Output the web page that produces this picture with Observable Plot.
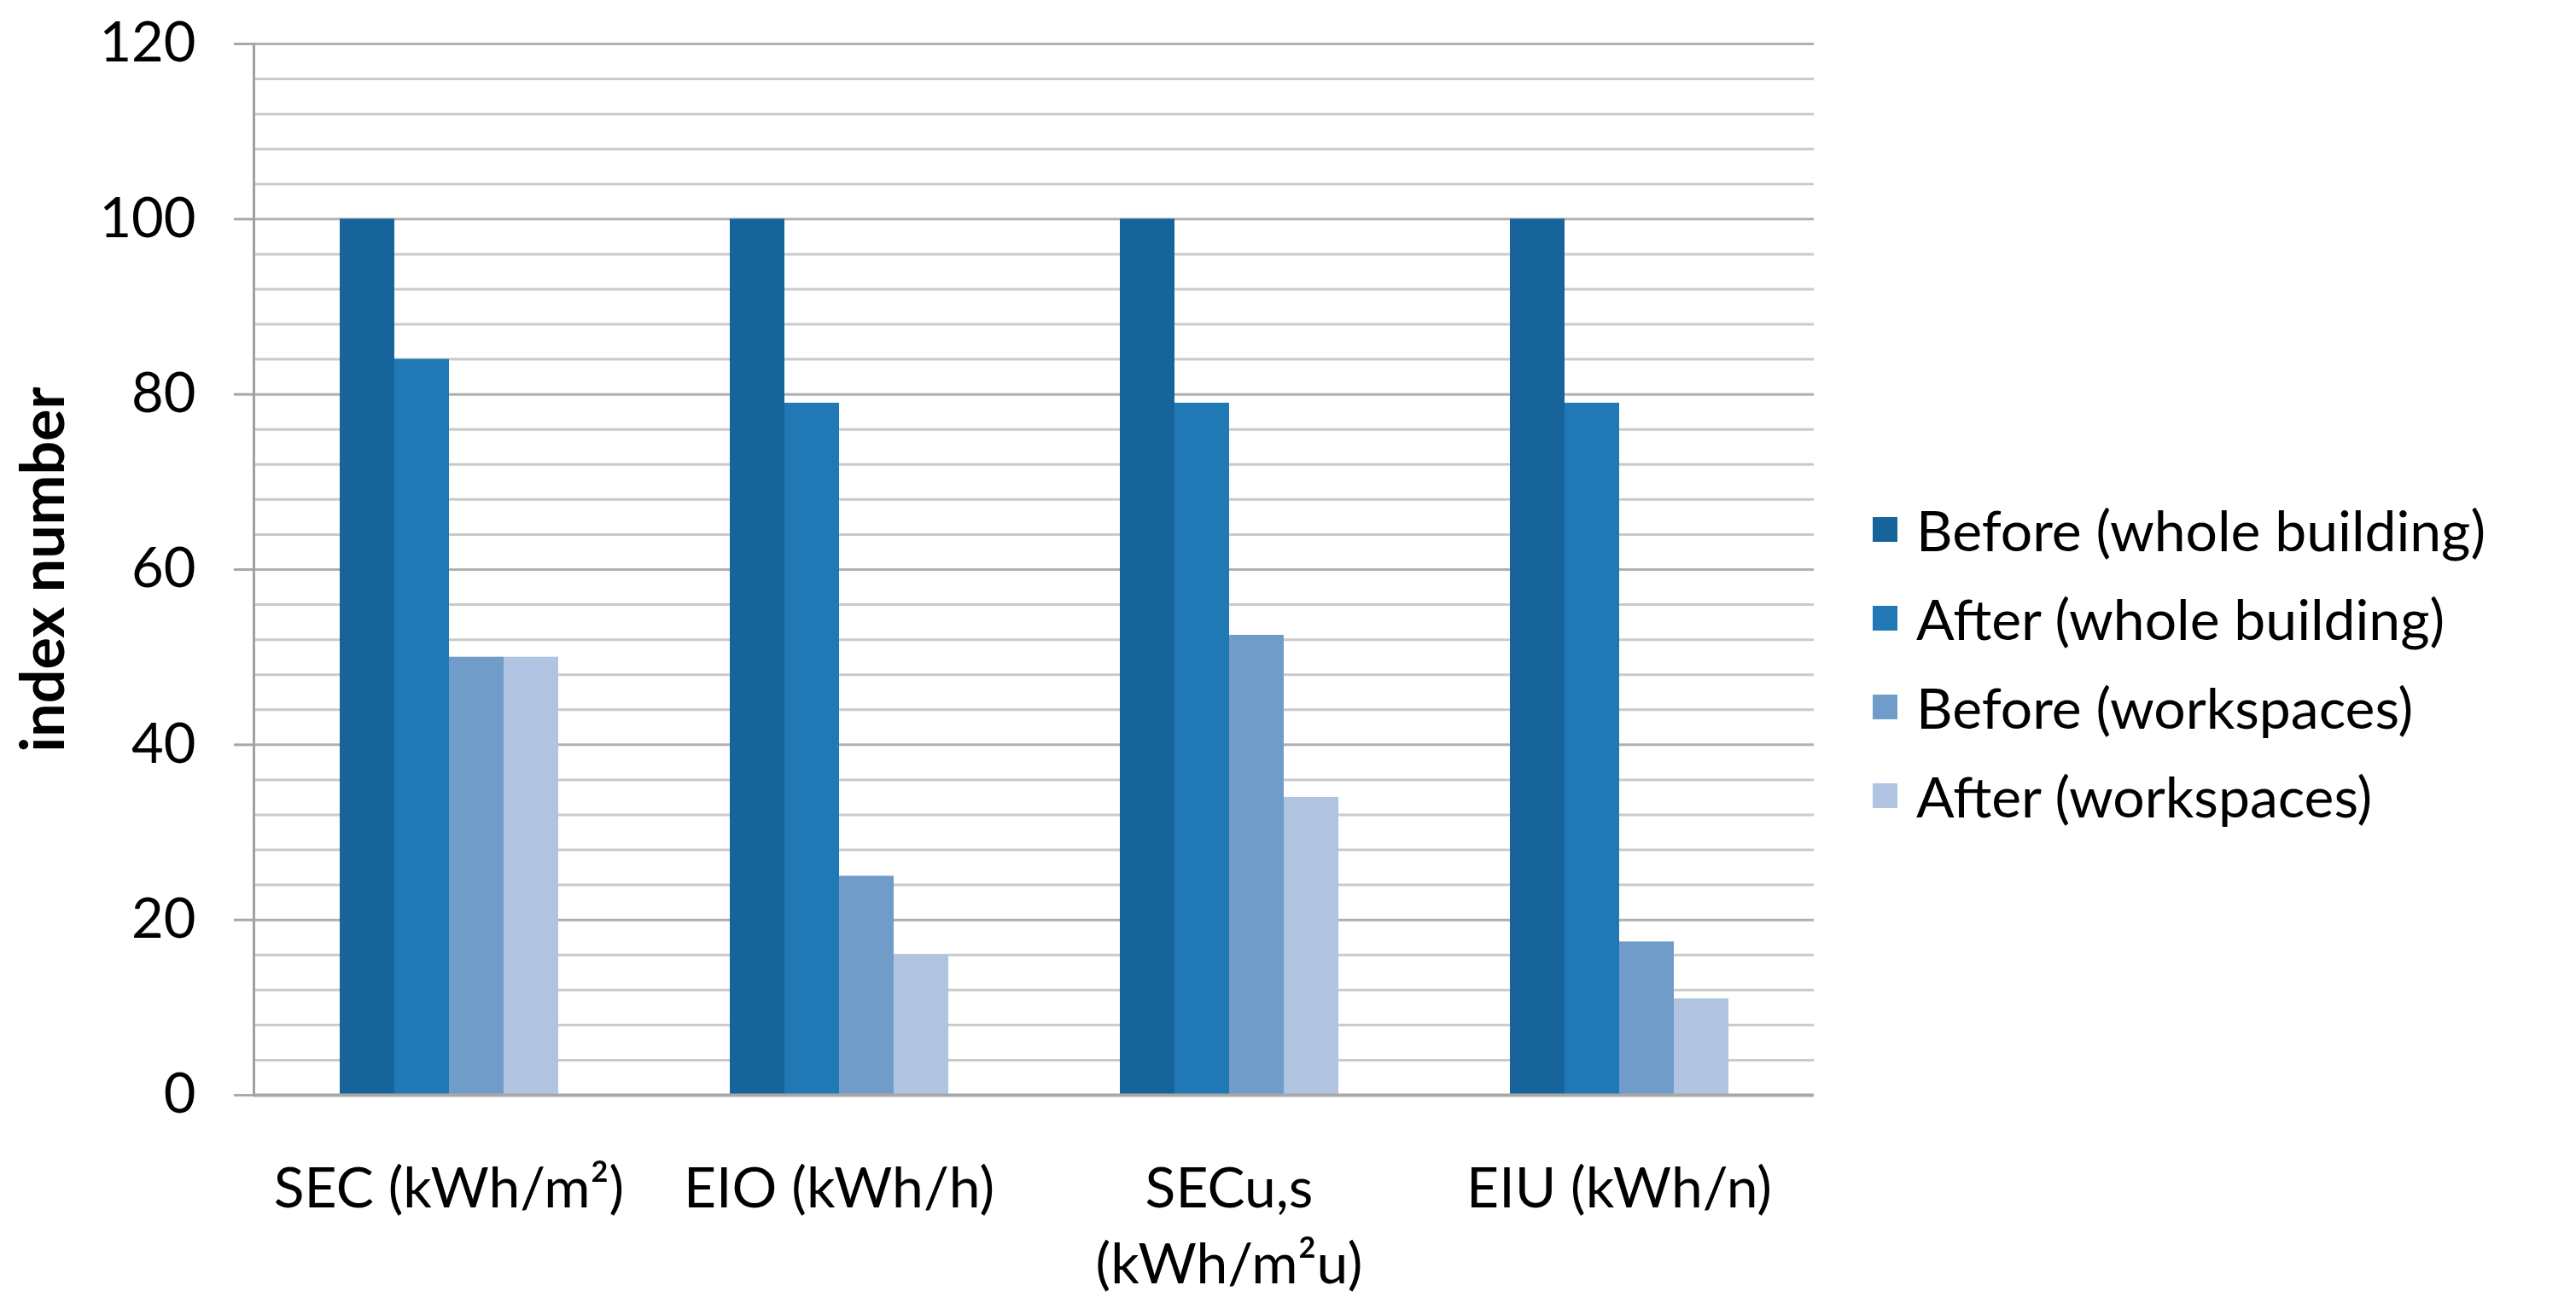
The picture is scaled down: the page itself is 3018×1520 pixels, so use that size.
<!DOCTYPE html>
<html><head><meta charset="utf-8">
<script src="https://cdn.jsdelivr.net/npm/d3@7"></script>
<script src="https://cdn.jsdelivr.net/npm/@observablehq/plot@0.6"></script>
<style>
html,body{margin:0;padding:0;background:#fff;}
#wrap{position:relative;width:3018px;height:1520px;font-family:Lato, sans-serif;}
#legend{position:absolute;left:2194px;top:568px;}
.item{display:flex;align-items:center;height:104px;font-size:66px;color:#000;}
.sw{width:29px;height:29px;margin-right:22px;flex:none;}
svg [aria-label="y-axis label"]{font-weight:bold;font-size:70px;}
</style></head><body><div id="wrap"></div>
<script>
const categories = ["SEC (kWh/m²)", "EIO (kWh/h)", "SECu,s\n(kWh/m²u)", "EIU (kWh/n)"];
const seriesNames = ["Before (whole building)", "After (whole building)", "Before (workspaces)", "After (workspaces)"];
const beforeWhole = [100, 100, 100, 100];
const afterWhole = [84, 79, 79, 79];
const beforeWork = [50, 25, 52.5, 17.5];
const afterWork = [50, 16, 34, 11];
const seriesColors = ["#17649a", "#2079b5", "#709cca", "#b0c4e1"];
const yTicks = [0, 20, 40, 60, 80, 100, 120];
const minorGrid = [4, 8, 12, 16, 24, 28, 32, 36, 44, 48, 52, 56, 64, 68, 72, 76, 84, 88, 92, 96, 104, 108, 112, 116];

const seriesValues = [beforeWhole, afterWhole, beforeWork, afterWork];
const data = [];
categories.forEach((c, i) => seriesNames.forEach((s, j) => data.push({category: c, series: s, value: seriesValues[j][i]})));

const chart = Plot.plot({
  width: 3018, height: 1520,
  marginLeft: 296, marginRight: 892, marginTop: 51, marginBottom: 237,
  style: {fontFamily: "Lato, sans-serif", fontSize: "65px", color: "#000", background: "#fff"},
  fx: {domain: categories, padding: 0, label: null},
  x: {domain: seriesNames, paddingInner: 0, paddingOuter: 1.53, axis: null},
  y: {domain: [0, 120]},
  color: {domain: seriesNames, range: seriesColors},
  marks: [
    Plot.ruleY(minorGrid, {stroke: "#cacaca", strokeWidth: 3}),
    Plot.ruleY(yTicks, {stroke: "#b0b0b0", strokeWidth: 3}),
    Plot.barY(data, {fx: "category", x: "series", y: "value", fill: "series", inset: 0}),
    Plot.ruleY([0], {stroke: "#a8a8a8", strokeWidth: 4}),
    Plot.frame({anchor: "left", facetAnchor: "left", stroke: "#a0a0a0", strokeWidth: 3}),
    Plot.axisY(yTicks, {tickSize: 23, tickPadding: 45, stroke: "#a8a8a8", strokeWidth: 3, fill: "#000",
      label: "index number", labelAnchor: "center", labelArrow: "none", labelOffset: 272}),
    Plot.axisFx({anchor: "bottom", tickSize: 0, tickPadding: 68, lineHeight: 1.35, fontSize: 66, label: null, fill: "#000"})
  ]
});
const wrap = document.getElementById("wrap");
wrap.appendChild(chart);
const legend = document.createElement("div");
legend.id = "legend";
seriesNames.forEach((s, i) => {
  const it = document.createElement("div");
  it.className = "item";
  const sw = document.createElement("span");
  sw.className = "sw";
  sw.style.background = seriesColors[i];
  const tx = document.createElement("span");
  tx.textContent = s;
  it.appendChild(sw); it.appendChild(tx);
  legend.appendChild(it);
});
wrap.appendChild(legend);
</script></body></html>
